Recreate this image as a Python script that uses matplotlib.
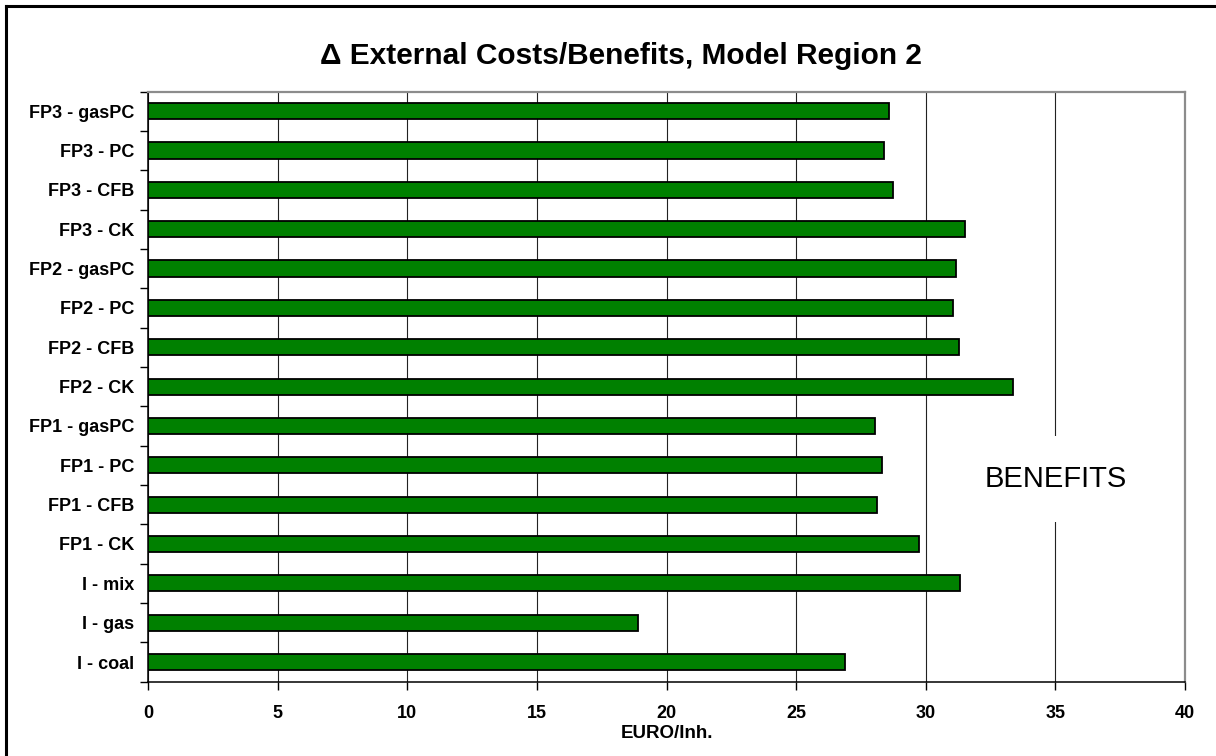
import numpy as np
import matplotlib.pyplot as plt
from matplotlib.lines import Line2D

plt.rcParams['font.family'] = ['Liberation Sans', 'DejaVu Sans']

# bottom to top
options = ['I - coal', 'I - gas', 'I - mix',
           'FP1 - CK', 'FP1 - CFB', 'FP1 - PC', 'FP1 - gasPC',
           'FP2 - CK', 'FP2 - CFB', 'FP2 - PC', 'FP2 - gasPC',
           'FP3 - CK', 'FP3 - CFB', 'FP3 - PC', 'FP3 - gasPC']
costs = [26.87, 18.89, 31.31,
         29.75, 28.13, 28.32, 28.06,
         33.35, 31.29, 31.04, 31.18,
         31.50, 28.75, 28.40, 28.60]
xticks = [0, 5, 10, 15, 20, 25, 30, 35, 40]

fig = plt.figure(figsize=(12.16, 7.56), dpi=100)
ax = fig.add_axes([148/1216, 1 - 681.7/756, (1185-148)/1216, (681.7-91.5)/756])

y = np.arange(len(options))
ax.barh(y, costs, height=0.41, color='#008000', edgecolor='black', linewidth=1.3, zorder=3)

ax.set_xlim(0, 40)
ax.set_ylim(-0.5, len(options) - 0.5)
ax.set_xticks(xticks)
ax.set_xticklabels([str(t) for t in xticks], fontsize=13, fontweight='bold')
ax.set_yticks(y)
ax.set_yticklabels(options, fontsize=13, fontweight='bold')
ax.set_yticks(np.arange(len(options) + 1) - 0.5, minor=True)
ax.tick_params(axis='y', which='major', length=0, pad=10)
ax.tick_params(axis='y', which='minor', length=6, width=1, direction='out')
ax.tick_params(axis='x', length=6, width=1, direction='out', pad=11)

ax.grid(axis='x', color='#222222', linewidth=0.8)
ax.set_axisbelow(True)
for s in ['left', 'bottom']:
    ax.spines[s].set_color('black')
    ax.spines[s].set_linewidth(1.1)
for s in ['top', 'right']:
    ax.spines[s].set_color('#8c8c8c')
    ax.spines[s].set_linewidth(1.6)

ax.set_xlabel('EURO/Inh.', fontsize=13.5, fontweight='bold', labelpad=2)

ax.text(35, 4.65, 'BENEFITS', fontsize=21, ha='center', va='center', zorder=4,
        bbox=dict(facecolor='white', edgecolor='none', pad=21))

fig.text(621/1216, 1 - 56/756, '\u0394 External Costs/Benefits, Model Region 2',
         fontsize=21.5, fontweight='bold', ha='center', va='center')

# outer frame
fig.add_artist(Line2D([6/1216, 6/1216], [0, 1 - 6/756], color='black', linewidth=2.2))
fig.add_artist(Line2D([6/1216, 1], [1 - 6/756, 1 - 6/756], color='black', linewidth=2.2))

fig.savefig('out.png', dpi=100)
